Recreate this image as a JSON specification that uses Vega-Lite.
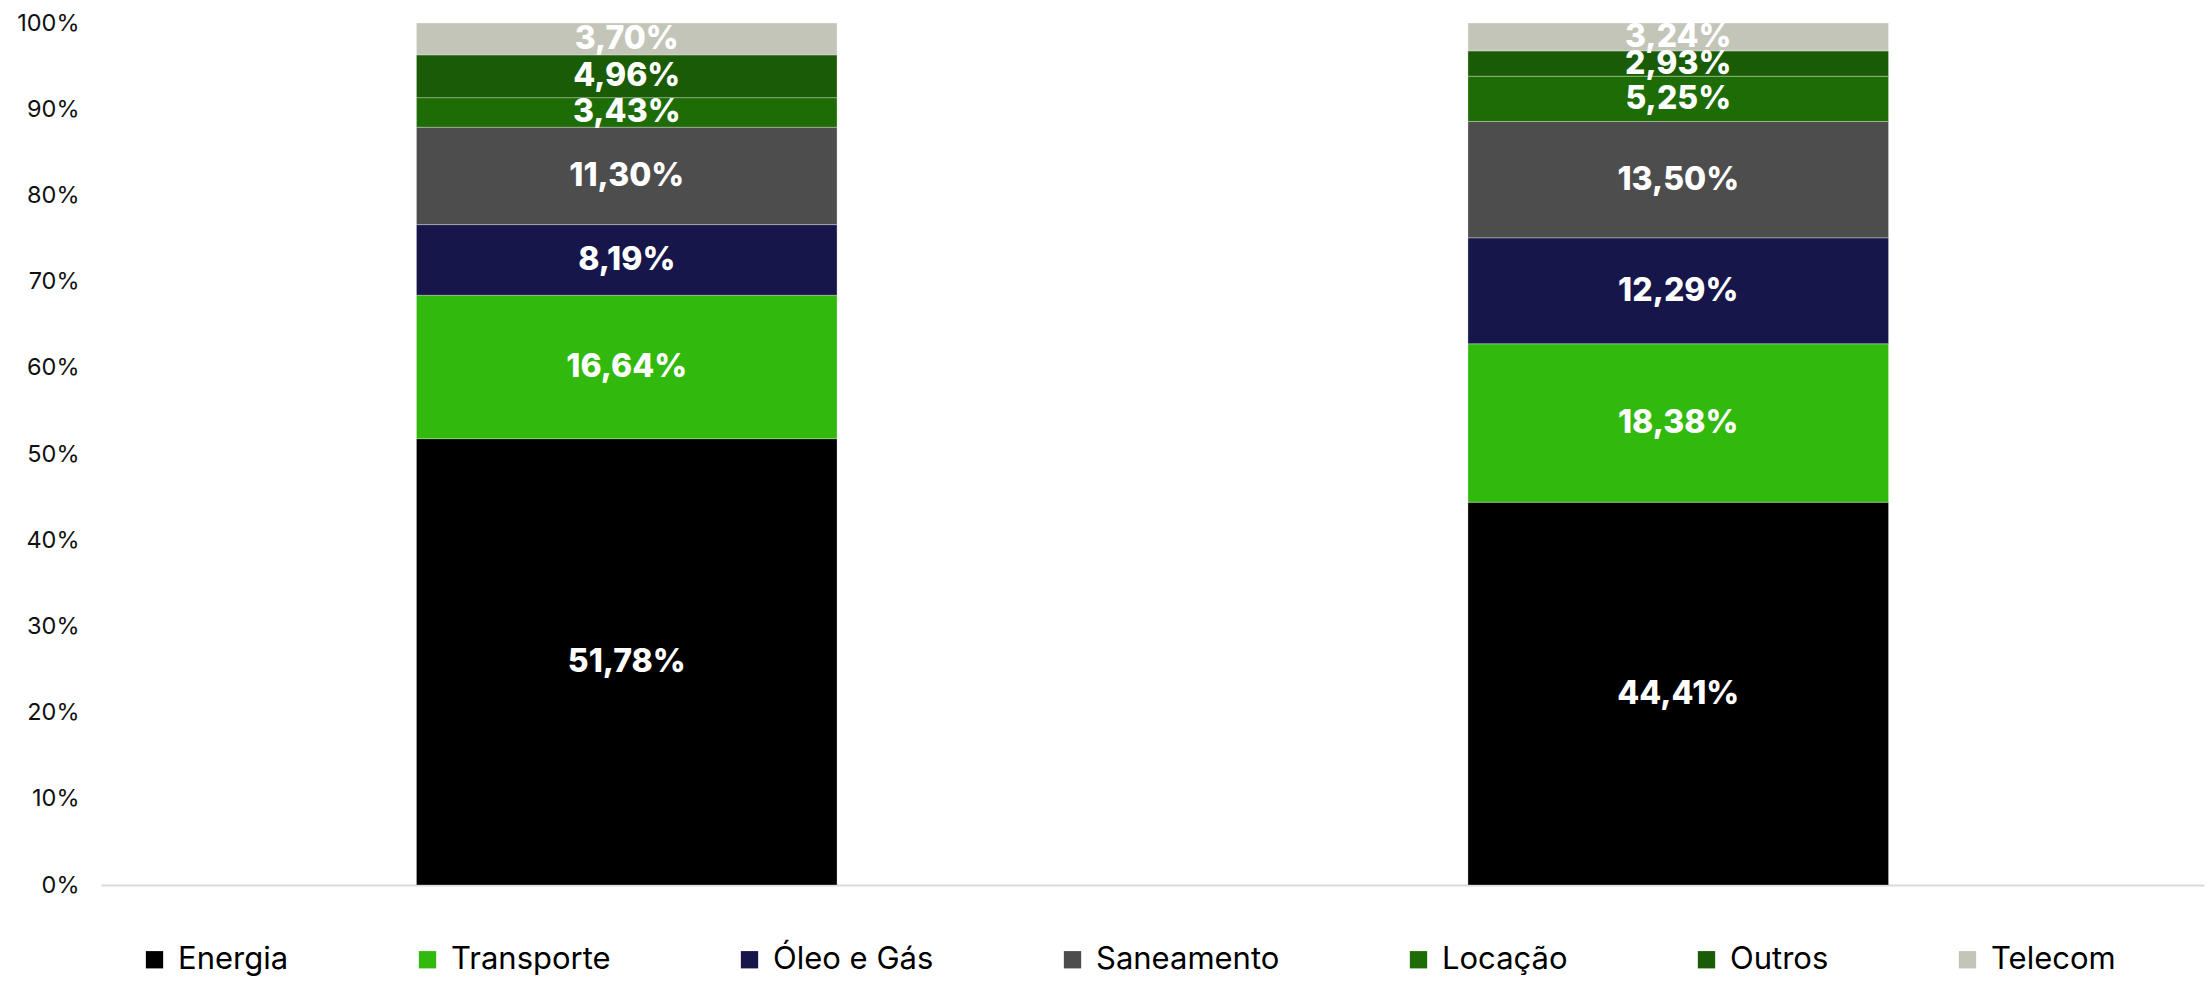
{
  "$schema": "https://vega.github.io/schema/vega-lite/v6.json",
  "autosize": "none",
  "width": 2103,
  "height": 862,
  "padding": {"left": 101, "top": 23, "right": 7, "bottom": 121},
  "background": "#ffffff",
  "data": {
    "values": [
      {"grupo": "A", "setor": "Energia", "ordem": 1, "share": 0.5178},
      {"grupo": "A", "setor": "Transporte", "ordem": 2, "share": 0.1664},
      {"grupo": "A", "setor": "Óleo e Gás", "ordem": 3, "share": 0.0819},
      {"grupo": "A", "setor": "Saneamento", "ordem": 4, "share": 0.1130},
      {"grupo": "A", "setor": "Locação", "ordem": 5, "share": 0.0343},
      {"grupo": "A", "setor": "Outros", "ordem": 6, "share": 0.0496},
      {"grupo": "A", "setor": "Telecom", "ordem": 7, "share": 0.0370},
      {"grupo": "B", "setor": "Energia", "ordem": 1, "share": 0.4441},
      {"grupo": "B", "setor": "Transporte", "ordem": 2, "share": 0.1838},
      {"grupo": "B", "setor": "Óleo e Gás", "ordem": 3, "share": 0.1229},
      {"grupo": "B", "setor": "Saneamento", "ordem": 4, "share": 0.1350},
      {"grupo": "B", "setor": "Locação", "ordem": 5, "share": 0.0525},
      {"grupo": "B", "setor": "Outros", "ordem": 6, "share": 0.0293},
      {"grupo": "B", "setor": "Telecom", "ordem": 7, "share": 0.0324}
    ]
  },
  "transform": [
    {"stack": "share", "groupby": ["grupo"], "sort": [{"field": "ordem", "order": "ascending"}], "as": ["y0", "y1"]}
  ],
  "encoding": {
    "x": {
      "field": "grupo", "type": "nominal",
      "scale": {"paddingInner": 0.6, "paddingOuter": 0.3},
      "axis": {"title": null, "labels": false, "ticks": false, "domain": true, "domainColor": "#d9d9d9", "domainWidth": 2, "grid": false}
    }
  },
  "layer": [
    {
      "mark": {"type": "bar", "stroke": "#ffffff", "strokeOpacity": 0.3, "strokeWidth": 1},
      "encoding": {
        "y": {
          "field": "y0", "type": "quantitative",
          "scale": {"domain": [0, 1], "nice": false},
          "axis": {"title": null, "format": ".0%", "values": [0, 0.1, 0.2, 0.3, 0.4, 0.5, 0.6, 0.7, 0.8, 0.9, 1], "grid": false, "domain": false, "ticks": false, "labelPadding": 22, "labelFontSize": 23.5, "labelFont": "Inter", "labelColor": "#111111"}
        },
        "y2": {"field": "y1"},
        "color": {
          "field": "setor", "type": "nominal",
          "scale": {
            "domain": ["Energia", "Transporte", "Óleo e Gás", "Saneamento", "Locação", "Outros", "Telecom"],
            "range": ["#000000", "#31b90d", "#16164b", "#4d4d4d", "#1e6c06", "#1a5c05", "#c4c5b9"]
          },
          "legend": {
            "title": null,
            "orient": "none",
            "legendX": 38,
            "legendY": 921,
            "direction": "horizontal",
            "columns": 7,
            "symbolType": "square",
            "symbolSize": 300,
            "symbolStrokeWidth": 0,
            "symbolOpacity": 1,
            "labelFontSize": 31,
            "labelFont": "Inter",
            "labelColor": "#000000",
            "labelOffset": 8,
            "labelLimit": 0,
            "columnPadding": 123,
            "padding": 0
          }
        }
      }
    },
    {
      "transform": [
        {"fold": ["y0", "y1"], "as": ["k", "pos"]},
        {"aggregate": [{"op": "mean", "field": "pos", "as": "mid"}], "groupby": ["grupo", "setor", "share"]}
      ],
      "mark": {"type": "text", "color": "#ffffff", "fontSize": 32, "fontWeight": 800, "font": "Inter", "baseline": "middle", "align": "center"},
      "encoding": {
        "y": {"field": "mid", "type": "quantitative"},
        "text": {"field": "share", "type": "quantitative", "format": ".2%"}
      }
    }
  ],
  "config": {
    "view": {"stroke": null},
    "locale": {"number": {"decimal": ",", "thousands": ".", "grouping": [3], "currency": ["R$", ""]}}
  }
}
